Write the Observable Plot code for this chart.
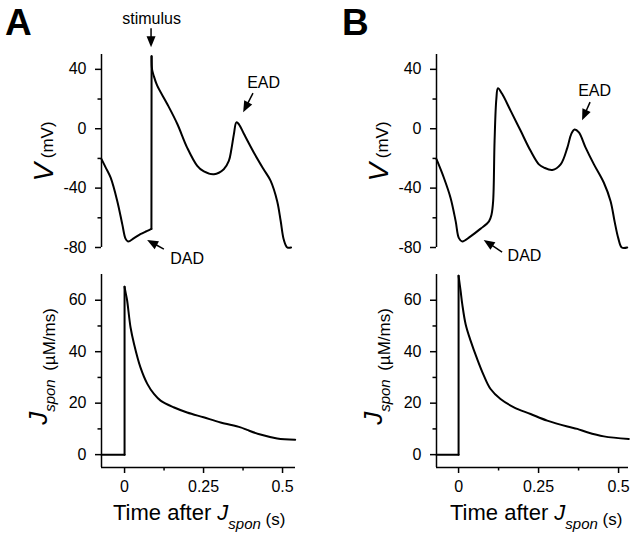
<!DOCTYPE html>
<html><head><meta charset="utf-8">
<script src="https://cdn.jsdelivr.net/npm/d3@7"></script>
<script src="https://cdn.jsdelivr.net/npm/@observablehq/plot@0.6"></script>
<style>
body{margin:0;background:#fff;}
#chart{position:relative;width:637px;height:542px;}
#chart svg{position:absolute;left:0;top:0;}
</style></head><body><div id="chart"></div>
<script>
// ---------- data ----------
// Panel A, membrane potential V (mV) vs time after Jspon (s)
const timeA_V = [-0.073,-0.06,-0.044,-0.023,-0.007,0.003,0.011,0.03,0.05,0.07,0.085,0.0855,0.087,0.092,0.103,0.135,0.167,0.198,0.23,0.251,0.283,0.314,0.33,0.338,0.346,0.354,0.362,0.378,0.409,0.44,0.462,0.483,0.494,0.504,0.515,0.527];
const voltA   = [-20.5,-26,-33,-48.8,-64.6,-74,-76,-73.7,-71,-69,-67.5,48.8,40,35.9,29.2,16.7,3.2,-12.7,-25,-28.8,-30.7,-27.3,-21.7,-14,-3.6,4.3,3,-3.6,-16,-27.3,-35,-48.8,-62,-74.8,-80,-80];
// Panel A, Jspon (µM/ms)
const timeA_J = [-0.073,0,0,0.004,0.008,0.019,0.03,0.05,0.072,0.093,0.114,0.155,0.198,0.25,0.304,0.367,0.388,0.43,0.483,0.54];
const jsponA  = [0,0,65.2,62.5,60,49.4,43,34,27.5,23.6,21,18.4,16.4,14.5,12.5,10.6,9.6,7.8,6.3,5.8];
// Panel B, V (mV)
const timeB_V = [-0.069,-0.046,-0.025,-0.009,0.001,0.0115,0.0375,0.069,0.095,0.103,0.108,0.1125,0.118,0.123,0.136,0.1625,0.194,0.225,0.251,0.267,0.293,0.319,0.34,0.352,0.3625,0.376,0.397,0.423,0.454,0.475,0.4875,0.499,0.51,0.527];
const voltB   = [-20.5,-33,-46.6,-62.4,-73.7,-76,-72.5,-67.3,-62.4,-57.8,-48.8,-8,20,27.3,23.5,12.2,-1.4,-14.9,-24,-26.2,-27.8,-24,-12.7,-3.6,-0.5,-2.5,-12.7,-24,-36.4,-48.8,-62.4,-73.7,-80,-80];
// Panel B, Jspon (µM/ms)
const timeB_J = [-0.069,0,0,0.00625,0.0115,0.022,0.0375,0.058,0.079,0.1,0.131,0.173,0.225,0.277,0.34,0.371,0.402,0.454,0.532];
const jsponB  = [0,0,69.5,63.7,58.5,50.7,44.3,37.2,30.7,25.5,21.6,18.4,15.8,13.2,10.9,10,8.7,7.1,6.1];

// ticks
const vTicks = [-80,-40,0,40], vMinor = [-60,-20,20];
const jTicks = [0,20,40,60], jMinor = [10,30,50];
const tTicks = [0,0.25,0.5], tMinor = [0.125,0.375];

// annotations (data units of each panel)
const annoA_V = [
  {label:"stimulus", tx:0.0854, ty:73.9, x1:0.0854, y1:67.4, x2:0.0854, y2:54.5},
  {label:"EAD", tx:0.44, ty:31.2, x1:0.408, y1:23.7, x2:0.377, y2:10.8},
  {label:"DAD", tx:0.198, ty:-87.5, x1:0.126, y1:-81.4, x2:0.073, y2:-75.3}
];
const annoB_V = [
  {label:"EAD", tx:0.425, ty:25.8, x1:0.4125, y1:17.6, x2:0.3875, y2:5.4},
  {label:"DAD", tx:0.206, ty:-85.4, x1:0.1375, y1:-83.4, x2:0.08, y2:-75.3}
];

// ---------- drawing ----------
const W = 637, H = 542;
const FONT = '"Liberation Sans", Arial, Helvetica, sans-serif';
const chart = document.getElementById("chart");

// split a trace into smooth pieces, drawing near-vertical jumps (equal-ish times) as straight segments
function traceMarks(t, v){
  const rows = t.map((x,i)=>({t:x, v:v[i]}));
  const marks = [];
  let start = 0;
  for (let i = 0; i < rows.length - 1; i++){
    if (rows[i+1].t - rows[i].t < 0.001){
      if (i > start) marks.push(Plot.line(rows.slice(start, i+1), {x:"t", y:"v", stroke:"black", strokeWidth:2, curve:"catmull-rom"}));
      marks.push(Plot.line(rows.slice(i, i+2), {x:"t", y:"v", stroke:"black", strokeWidth:2, curve:"linear"}));
      start = i+1;
    }
  }
  marks.push(Plot.line(rows.slice(start), {x:"t", y:"v", stroke:"black", strokeWidth:2, curve:"catmull-rom"}));
  return marks;
}

function panel(cfg){
  const marks = [
    Plot.ruleX([cfg.xDomain[0]], {stroke:"black", strokeWidth:1.5}),
    Plot.axisY(cfg.yTicks, {anchor:"left", tickSize:6, tickPadding:9, strokeWidth:1.5, tickFormat:d=>String(d), label:null}),
    Plot.axisY(cfg.yMinor, {anchor:"left", tickSize:3.5, strokeWidth:1.5, tickFormat:()=>"", label:null}),
    ...traceMarks(cfg.t, cfg.v)
  ];
  if (cfg.xAxis){
    marks.push(
      Plot.ruleY([cfg.yDomain[0]], {stroke:"black", strokeWidth:1.5}),
      Plot.axisX(tTicks, {anchor:"bottom", tickSize:6, tickPadding:7, strokeWidth:1.5, tickFormat:d=>String(d), label:null}),
      Plot.axisX(tMinor, {anchor:"bottom", tickSize:3.5, strokeWidth:1.5, tickFormat:()=>"", label:null})
    );
  }
  if (cfg.anno){
    marks.push(Plot.text(cfg.anno, {x:"tx", y:"ty", text:"label", fill:"black", fontSize:16}));
  }
  const plot = Plot.plot({
    width: W, height: H,
    marginLeft: cfg.m[0], marginRight: cfg.m[1], marginTop: cfg.m[2], marginBottom: cfg.m[3],
    x: {domain: cfg.xDomain, axis: cfg.xAxis ? undefined : null},
    y: {domain: cfg.yDomain},
    style: {background:"transparent", fontFamily: FONT, fontSize:"16px", color:"black", overflow:"visible"},
    marks
  });
  chart.appendChild(plot);
  if (cfg.anno){
    const sx = plot.scale("x"), sy = plot.scale("y");
    const g = d3.select(plot).append("g");
    for (const a of cfg.anno){
      const p1 = [sx.apply(a.x1), sy.apply(a.y1)], p2 = [sx.apply(a.x2), sy.apply(a.y2)];
      const dx = p2[0]-p1[0], dy = p2[1]-p1[1], L = Math.hypot(dx,dy);
      const ux = dx/L, uy = dy/L, nx = -uy, ny = ux;
      const hl = 11, hw = 4.5;
      const b = [p2[0]-ux*hl, p2[1]-uy*hl];
      g.append("line").attr("x1",p1[0]).attr("y1",p1[1]).attr("x2",b[0]+ux).attr("y2",b[1]+uy)
        .attr("stroke","black").attr("stroke-width",1.5);
      g.append("path").attr("d",`M${p2[0]},${p2[1]}L${b[0]+nx*hw},${b[1]+ny*hw}L${b[0]-nx*hw},${b[1]-ny*hw}Z`)
        .attr("fill","black");
    }
  }
  return plot;
}

const xA = [-0.073, 0.541], xB = [-0.069, 0.531];
panel({t:timeA_V, v:voltA, xDomain:xA, yDomain:[-80,50], yTicks:vTicks, yMinor:vMinor, m:[101, W-295, 54, H-247], anno:annoA_V});
panel({t:timeA_J, v:jsponA, xDomain:xA, yDomain:[-5,70], yTicks:jTicks, yMinor:jMinor, m:[101, W-295, 274, H-467], xAxis:true});
panel({t:timeB_V, v:voltB, xDomain:xB, yDomain:[-80,50], yTicks:vTicks, yMinor:vMinor, m:[436, W-628, 54, H-247], anno:annoB_V});
panel({t:timeB_J, v:jsponB, xDomain:xB, yDomain:[-5,70], yTicks:jTicks, yMinor:jMinor, m:[436, W-628, 274, H-467], xAxis:true});

// ---------- labels ----------
const ov = d3.select(chart).append("svg").attr("width",W).attr("height",H)
  .style("font-family",FONT).style("overflow","visible");

for (const [lab, x] of [["A",5],["B",342]]){
  ov.append("text").attr("x",x).attr("y",35).attr("font-size",37).attr("font-weight","bold").text(lab);
}

function vLabel(x){
  const t = ov.append("text").attr("transform",`translate(${x},151.5) rotate(-90)`).attr("text-anchor","middle");
  t.append("tspan").attr("font-size",28).attr("font-style","italic").text("V");
  t.append("tspan").attr("font-size",17).text(" (mV)");
}
function jLabel(x){
  const t = ov.append("text").attr("transform",`translate(${x},366.5) rotate(-90)`).attr("text-anchor","middle");
  t.append("tspan").attr("font-size",26).attr("font-style","italic").text("J");
  t.append("tspan").attr("font-size",15).attr("font-style","italic").attr("dy",8).text("spon");
  t.append("tspan").attr("font-size",17).text("\u2002(µM/ms)");
}
function tLabel(x){
  const t = ov.append("text").attr("x",x).attr("y",520);
  t.append("tspan").attr("font-size",22).text("Time after ");
  t.append("tspan").attr("font-size",22).attr("font-style","italic").text("J");
  t.append("tspan").attr("font-size",15).attr("font-style","italic").attr("dy",9).text("spon");
  t.append("tspan").attr("font-size",17).attr("dy",-4).text(" (s)");
}
vLabel(53); vLabel(388);
jLabel(47); jLabel(382);
tLabel(113); tLabel(450);
</script></body></html>
